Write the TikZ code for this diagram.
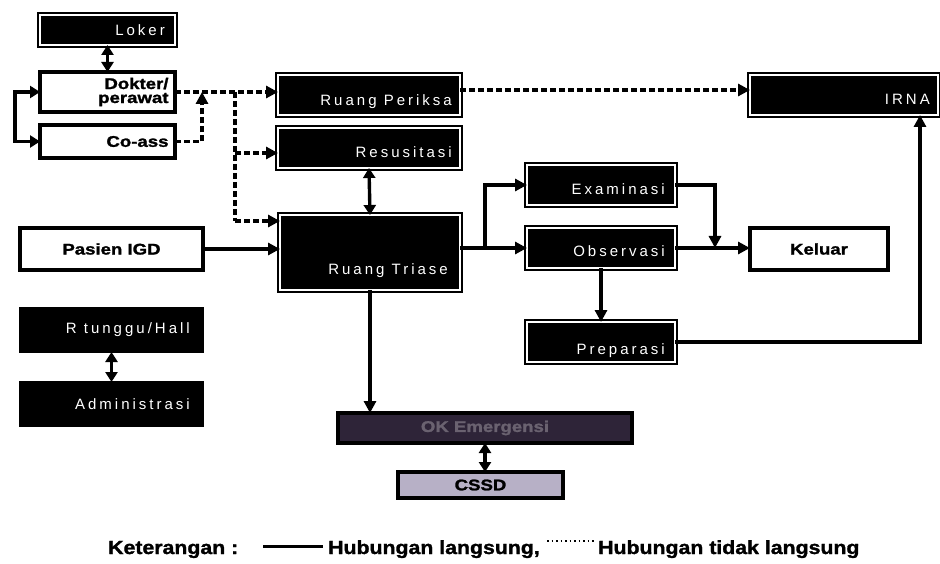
\documentclass[tikz,border=0pt]{standalone}
\usepackage{fontspec}
\setmainfont{Liberation Sans}
\newfontfamily\heavyfont[FakeStretch=1.2,FakeBold=1.5]{Liberation Sans}
\newfontfamily\roomfont[LetterSpace=20]{Liberation Sans}
\newfontfamily\legendfont[FakeStretch=1.12,FakeBold=1.5]{Liberation Sans}
\usetikzlibrary{arrows.meta}

\definecolor{opfill}{HTML}{2E2438}
\definecolor{sterfill}{HTML}{B7B0C6}
\definecolor{optext}{HTML}{6A6270}

\tikzset{
  box/.style={anchor=north west, inner sep=0pt, outer sep=0pt},
  roombox/.style={box, fill=black, draw=black, line width=2.4pt,
                  double=white, double distance=1.4pt},
  plainblack/.style={box, fill=black, draw=black, line width=1.5pt},
  whitebox/.style={box, fill=white, draw=black, line width=3.2pt,
                   font=\heavyfont\bfseries\fontsize{15.5}{17}\selectfont},
  roomlbl/.style={font=\roomfont\fontsize{15}{15}\selectfont, text=white,
                  inner sep=0pt},
  tip/.style={-{Triangle[length=12pt,width=12pt]}},
  conn/.style={line width=3.4pt, tip},
  biconn/.style={line width=3.4pt,
                 {Triangle[length=10pt,width=12pt]}-{Triangle[length=10pt,width=12pt]}},
  dconn/.style={conn, dash pattern=on 6pt off 3pt},
  dline/.style={line width=3.4pt, dash pattern=on 6pt off 3pt},
  legendtxt/.style={font=\legendfont\bfseries\fontsize{19}{21}\selectfont,
                    inner sep=0pt, anchor=base west}
}

\begin{document}
\begin{tikzpicture}[x=1pt,y=-1pt]
  \useasboundingbox (0,0) rectangle (940,564);
  \fill[white] (0,0) rectangle (940,564);

  % staff column
  \node[roombox, minimum width=135pt, minimum height=30pt,
        label={[roomlbl, anchor=base east, xshift=-10pt, yshift=9pt]south east:Loker}]
        (loker) at (40,15) {};
  \node[whitebox, minimum width=135pt, minimum height=40pt,
        text width=122pt, align=right] (dokter) at (40,72) {Dokter/\\[-3pt]perawat};
  \node[whitebox, minimum width=135pt, minimum height=33pt,
        text width=122pt, align=right] (coass) at (40,125) {Co-ass};

  % rooms
  \node[roombox, minimum width=182pt, minimum height=40pt,
        label={[roomlbl, anchor=base east, xshift=-8pt, yshift=9pt]south east:Ruang Periksa}]
        (periksa) at (278,75) {};
  \node[roombox, minimum width=182pt, minimum height=40pt,
        label={[roomlbl, anchor=base east, xshift=-8pt, yshift=10pt]south east:Resusitasi}]
        (resus) at (278,128) {};
  \node[roombox, minimum width=180pt, minimum height=75pt,
        label={[roomlbl, anchor=base east, xshift=-12pt, yshift=15pt]south east:Ruang Triase}]
        (triase) at (280,215) {};
  \node[whitebox, minimum width=183pt, minimum height=42pt] (pasien) at (20,228) {Pasien IGD};
  \node[roombox, minimum width=188pt, minimum height=40pt,
        label={[roomlbl, anchor=base east, xshift=-8pt, yshift=10pt]south east:IRNA}]
        (irna) at (750,75) {};
  \node[roombox, minimum width=148pt, minimum height=40pt,
        label={[roomlbl, anchor=base east, xshift=-10pt, yshift=10pt]south east:Examinasi}]
        (exam) at (527,165) {};
  \node[roombox, minimum width=148pt, minimum height=40pt,
        label={[roomlbl, anchor=base east, xshift=-10pt, yshift=11pt]south east:Observasi}]
        (obs) at (527,228) {};
  \node[whitebox, minimum width=138pt, minimum height=42pt] (keluar) at (750,228) {Keluar};
  \node[roombox, minimum width=148pt, minimum height=40pt,
        label={[roomlbl, anchor=base east, xshift=-10pt, yshift=8pt]south east:Preparasi}]
        (prep) at (527,322) {};

  % waiting area and administration
  \node[plainblack, minimum width=183pt, minimum height=44pt,
        label={[roomlbl, anchor=east, xshift=-13pt]east:R tunggu/Hall}]
        (tunggu) at (20,308) {};
  \node[plainblack, minimum width=183pt, minimum height=44pt,
        label={[roomlbl, anchor=east, xshift=-13pt]east:Administrasi}]
        (admin) at (20,382) {};

  % operating room and sterilisation
  \node[box, fill=opfill, draw=black, line width=3.2pt, minimum width=294pt,
        minimum height=30pt, text=optext,
        font=\heavyfont\bfseries\fontsize{15.5}{17}\selectfont] (ok) at (338,413) {OK Emergensi};
  \node[box, fill=sterfill, draw=black, line width=3.2pt, minimum width=165pt,
        minimum height=26pt,
        font=\heavyfont\bfseries\fontsize{15.5}{17}\selectfont] (cssd) at (398,472) {CSSD};

  % junctions
  \coordinate (jcoass) at (202,92);
  \coordinate (jstaff) at (235,92);
  \coordinate (jsplit) at (485,248);
  \coordinate (jexit)  at (715,248);

  % staff connections
  \draw[biconn] (loker.south) -- (dokter.north);
  \draw[biconn] (dokter.west) -- ++(-25,0) |- (coass.west);
  \draw[dconn] (coass.east) -| (jcoass);
  \draw[dconn] (dokter.east) -- (dokter.east -| periksa.west);
  \draw[dline] (jstaff) -- ([yshift=-6pt]triase.north west -| jstaff);
  \draw[dconn] ([yshift=-5pt]resus.west -| jstaff) -- ([yshift=-5pt]resus.west);
  \draw[dconn] ([yshift=-6pt]triase.north west -| jstaff) -- ([yshift=-6pt]triase.north west);
  \draw[dconn] ([yshift=5pt]periksa.east) -- ([yshift=5pt]periksa.east -| irna.west);

  % patient flow
  \draw[biconn] (resus.south) -- (triase.north);
  \draw[conn] (pasien.east) -- (pasien.east -| triase.west);
  \draw[conn] (triase.east |- obs.west) -- (obs.west);
  \draw[conn] (jsplit) |- (exam.west);
  \draw[conn] (exam.east) -| (jexit);
  \draw[conn] (obs.east) -- (obs.east -| keluar.west);
  \draw[conn] (obs.south) -- (prep.north);
  \draw[conn] (prep.east) -| ([xshift=-18pt]irna.south east);
  \draw[biconn] (tunggu.south) -- (admin.north);
  \draw[conn] (triase.south) -- (triase.south |- ok.north);
  \draw[biconn] (ok.south) -- (ok.south |- cssd.north);

  % legend
  \node[legendtxt] (keter) at (108,554) {Keterangan :};
  \coordinate (solidA) at (263,546);
  \coordinate (solidB) at (323,546);
  \draw[line width=3pt] (solidA) -- (solidB);
  \node[legendtxt] (direct) at (328,554) {Hubungan langsung,};
  \coordinate (dotA) at (547,541);
  \coordinate (dotB) at (594,541);
  \draw[line width=2.4pt, dash pattern=on 1.5pt off 3pt] (dotA) -- (dotB);
  \node[legendtxt] (indirect) at (598,554) {Hubungan tidak langsung};
\end{tikzpicture}
\end{document}
